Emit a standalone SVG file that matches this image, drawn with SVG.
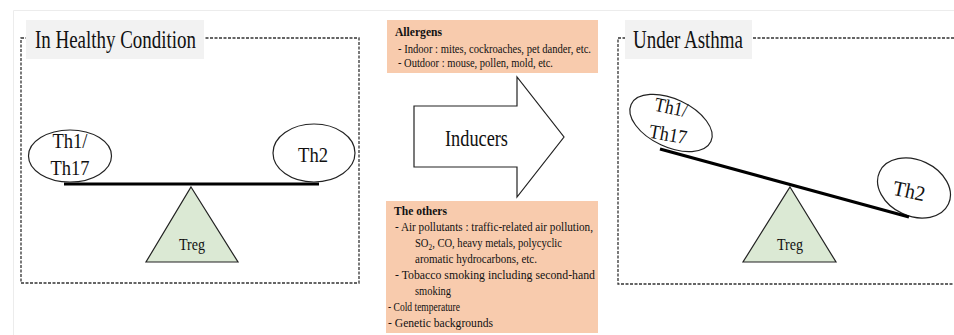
<svg xmlns="http://www.w3.org/2000/svg" width="954" height="335" viewBox="0 0 954 335" font-family="'Liberation Serif', 'Times New Roman', 'DejaVu Serif', serif">
<style>
text{font-family:"Liberation Serif","Times New Roman","DejaVu Serif",serif;fill:#111}
.dash{fill:none;stroke:#333;stroke-width:1.3;stroke-dasharray:3 1.5}
.ttl{fill:#f2f2f2}
.t25{font-size:25px}
.cell{fill:#fff;stroke:#222;stroke-width:1.2}
.beam{stroke:#000;stroke-width:3.2;stroke-linecap:butt}
.tri{fill:#dbe9d4;stroke:#222;stroke-width:1.2}
.box{fill:#f8cbad}
.sm{font-size:13px}
.b{font-weight:bold}
</style>
<rect width="954" height="335" fill="#fff"/>
<path d="M13.5 335V10.5H954" fill="none" stroke="#ececec" stroke-width="1"/>

<g id="healthy">
<rect class="dash" x="21" y="38" width="338" height="245"/>
<rect class="ttl" x="26" y="20" width="178" height="39"/>
<text class="t25" x="35" y="48" textLength="161" lengthAdjust="spacingAndGlyphs">In Healthy Condition</text>
</g>
<g id="healthy-th1">
<ellipse class="cell" cx="70" cy="156" rx="41.5" ry="26"/>
<text x="70" y="148" font-size="20" text-anchor="middle" textLength="35" lengthAdjust="spacingAndGlyphs">Th1/</text>
<text x="70" y="175" font-size="20" text-anchor="middle" textLength="39" lengthAdjust="spacingAndGlyphs">Th17</text>
</g>
<g id="healthy-th2">
<ellipse class="cell" cx="314" cy="153" rx="41" ry="29"/>
<text x="313" y="162" font-size="21" text-anchor="middle" textLength="30" lengthAdjust="spacingAndGlyphs">Th2</text>
</g>
<g id="healthy-treg">
<polygon class="tri" points="191,187 238,262 146,262"/>
<text x="192" y="250" font-size="16" text-anchor="middle" textLength="26" lengthAdjust="spacingAndGlyphs">Treg</text>
</g>

<g id="asthma">
<path class="dash" d="M954 38H618V284H954"/>
<rect class="ttl" x="625" y="20" width="127" height="39"/>
<text class="t25" x="633" y="48" textLength="110" lengthAdjust="spacingAndGlyphs">Under Asthma</text>
</g>
<g id="asthma-th1">
<ellipse class="cell" cx="671" cy="123" rx="44" ry="24" transform="rotate(25 671 123)"/>
<text x="671" y="114" font-size="20" text-anchor="middle" textLength="33" lengthAdjust="spacingAndGlyphs" transform="rotate(12 671 108)">Th1/</text>
<text x="668" y="141" font-size="20" text-anchor="middle" textLength="38" lengthAdjust="spacingAndGlyphs" transform="rotate(10 668 135)">Th17</text>
</g>
<g id="asthma-th2">
<ellipse class="cell" cx="914" cy="188" rx="38" ry="28" transform="rotate(25 914 188)"/>
<text x="909" y="198" font-size="21" text-anchor="middle" textLength="32" lengthAdjust="spacingAndGlyphs" transform="rotate(12 909 192)">Th2</text>
</g>
<g id="asthma-treg">
<polygon class="tri" points="790,187 836,262 743,262"/>
<text x="790" y="250" font-size="16" text-anchor="middle" textLength="26" lengthAdjust="spacingAndGlyphs">Treg</text>
</g>

<g id="connectors">
<line class="beam" x1="64" y1="184" x2="319" y2="184"/>
<line class="beam" x1="660" y1="149" x2="909" y2="217"/>
</g>

<g id="inducers">
<polygon points="414,106 517,106 517,77 564,137 517,197 517,167 414,167" fill="#fff" stroke="#222" stroke-width="1.2"/>
<text x="445" y="146" font-size="24" textLength="63" lengthAdjust="spacingAndGlyphs">Inducers</text>
</g>

<g id="allergens">
<rect class="box" x="387" y="20" width="211" height="53"/>
<text class="sm b" x="395" y="36" textLength="47" lengthAdjust="spacingAndGlyphs">Allergens</text>
<text class="sm" x="398" y="53" textLength="193" lengthAdjust="spacingAndGlyphs">- Indoor : mites, cockroaches, pet dander, etc.</text>
<text class="sm" x="398" y="67" textLength="155" lengthAdjust="spacingAndGlyphs">- Outdoor : mouse, pollen, mold, etc.</text>
</g>

<g id="others">
<rect class="box" x="386" y="201" width="212" height="132"/>
<text class="sm b" x="394" y="215" textLength="53" lengthAdjust="spacingAndGlyphs">The others</text>
<text class="sm" x="395" y="231" textLength="198" lengthAdjust="spacingAndGlyphs">- Air pollutants : traffic-related air pollution,</text>
<text class="sm" x="415" y="247" textLength="147" lengthAdjust="spacingAndGlyphs">SO<tspan font-size="9" dy="3">2</tspan><tspan dy="-3">, CO, heavy metals, polycyclic</tspan></text>
<text class="sm" x="415" y="263" textLength="122" lengthAdjust="spacingAndGlyphs">aromatic hydrocarbons, etc.</text>
<text class="sm" x="395" y="279" textLength="200" lengthAdjust="spacingAndGlyphs">- Tobacco smoking including second-hand</text>
<text class="sm" x="415" y="295" textLength="36" lengthAdjust="spacingAndGlyphs">smoking</text>
<text class="sm" x="388" y="311" textLength="72" lengthAdjust="spacingAndGlyphs">- Cold temperature</text>
<text class="sm" x="388" y="327" textLength="105" lengthAdjust="spacingAndGlyphs">- Genetic backgrounds</text>
</g>
</svg>
